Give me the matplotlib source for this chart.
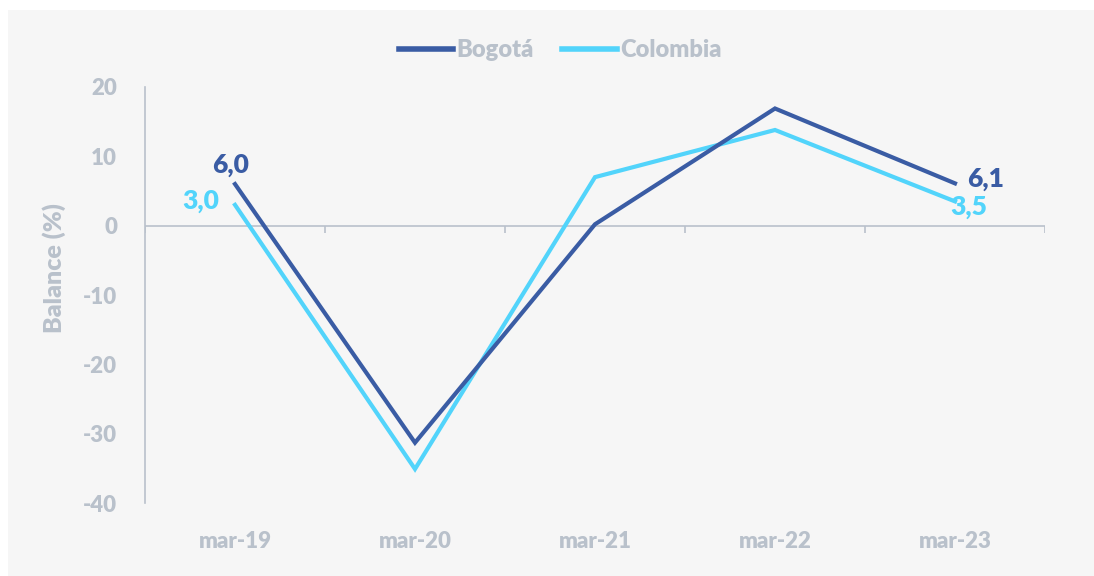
import matplotlib
matplotlib.use("Agg")
import matplotlib.pyplot as plt
from matplotlib.patches import Rectangle

# Data
categories = ["mar-19", "mar-20", "mar-21", "mar-22", "mar-23"]
bogota = [6.0, -31.3, 0.2, 16.9, 6.1]
colombia = [3.0, -35.1, 7.0, 13.8, 3.5]
yticks = [20, 10, 0, -10, -20, -30, -40]

C_BOG = "#3a5ca4"
C_COL = "#52d4fb"
C_GREY = "#b9c1cb"
BG = "#f6f6f6"
W = 800  # heavy

plt.rcParams['font.family'] = ['Lato', 'DejaVu Sans']
plt.rcParams['axes.unicode_minus'] = False

fig = plt.figure(figsize=(10.94, 5.76), dpi=100)
fig.patch.set_facecolor("white")
fig.patches.append(Rectangle((8 / 1094, 0), 1 - 8 / 1094, 1 - 10 / 576,
                             transform=fig.transFigure, facecolor=BG,
                             edgecolor="none", zorder=-10))

ax = fig.add_axes([145 / 1094, 1 - 503 / 576, 900 / 1094, 416 / 576])
ax.set_facecolor("none")

x = list(range(len(categories)))
ax.plot(x, bogota, color=C_BOG, lw=3, label="Bogotá", solid_joinstyle="miter", zorder=3)
ax.plot(x, colombia, color=C_COL, lw=3, label="Colombia", solid_joinstyle="miter", zorder=2)

ax.set_xlim(-0.5, len(categories) - 0.5)
ax.set_ylim(-40, 20)

# zero line with category tick marks
ax.axhline(0, color=C_GREY, lw=1.2, zorder=1)
bounds = [i - 0.5 for i in range(len(categories) + 1)]
ax.vlines(bounds, -1.0, 0, color=C_GREY, lw=1.2, zorder=1)

for s in ["top", "right", "bottom"]:
    ax.spines[s].set_visible(False)
ax.spines["left"].set_color(C_GREY)
ax.spines["left"].set_linewidth(1.2)

ax.set_xticks(x)
ax.set_xticklabels(categories)
ax.set_yticks(yticks)
ax.tick_params(axis="both", length=0, labelcolor=C_GREY, labelsize=16)
ax.tick_params(axis="y", pad=20)
ax.tick_params(axis="x", pad=20)
for lab in ax.get_xticklabels() + ax.get_yticklabels():
    lab.set_fontweight(W)

ax.set_ylabel("Balance (%)", color=C_GREY, fontsize=18, fontweight=W, labelpad=12)
ax.yaxis.label.set_y(0.565)

# data labels
lab_kw = dict(textcoords="offset points", ha="center", va="center",
              fontsize=19, fontweight=W)
ax.annotate("6,0", (0, bogota[0]), xytext=(-3, 14), color=C_BOG, **lab_kw)
ax.annotate("3,0", (0, colombia[0]), xytext=(-25, 3), color=C_COL, **lab_kw)
ax.annotate("6,1", (4, bogota[4]), xytext=(22, 3), color=C_BOG, **lab_kw)
ax.annotate("3,5", (4, colombia[4]), xytext=(10, -4), color=C_COL, **lab_kw)

leg = ax.legend(loc="center", bbox_to_anchor=(0.512, (576 - 50) / 576),
                bbox_transform=fig.transFigure, ncol=2, frameon=False,
                fontsize=17, handlelength=2.3, handletextpad=0.15, columnspacing=1.2)
for t in leg.get_texts():
    t.set_color(C_GREY)
    t.set_fontweight(W)
for h in leg.get_lines():
    h.set_linewidth(4)

fig.savefig("out.png", dpi=100, facecolor=fig.get_facecolor())
